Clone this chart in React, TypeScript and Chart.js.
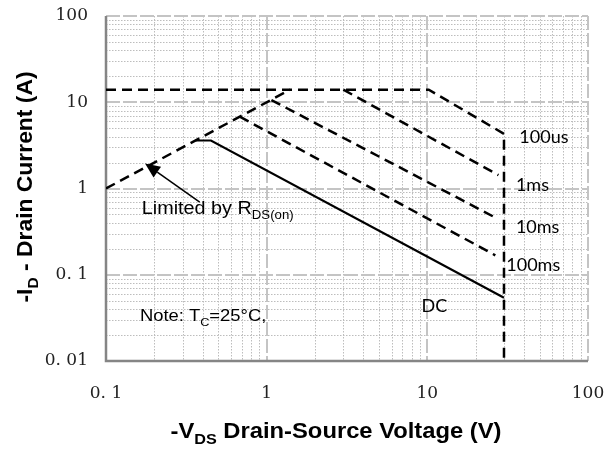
import React, { useEffect, useRef } from 'react';
import { Chart, registerables } from 'chart.js';

Chart.register(...registerables);

// Axis ticks
const xTickValues = [0.1, 1, 10, 100];
const xTickLabels = ['0. 1', '1', '10', '100'];
const yTickValues = [0.01, 0.1, 1, 10, 100];
const yTickLabels = ['0. 01', '0. 1', '1', '10', '100'];

// Safe operating area boundaries (V, A)
const rdsV = [0.1, 1.4];
const rdsI = [1, 14];
const us100V = [0.1, 10.2, 30, 30];
const us100I = [14, 14, 4.3, 0.01];
const ms1V = [3.0, 27.7];
const ms1I = [14, 1.43];
const ms10V = [1.07, 26.5];
const ms10I = [10.6, 0.46];
const ms100V = [0.68, 26.5];
const ms100I = [6.8, 0.168];
const dcV = [0.36, 0.45, 30];
const dcI = [3.6, 3.6, 0.054];

// Curve labels: text, x (V), baseline (A)
const curveLabels = ['100us', '1ms', '10ms', '100ms', 'DC'];
const curveLabelV = [37.4, 35.6, 35.6, 31.0, 9.2];
const curveLabelI = [3.41, 0.943, 0.306, 0.1107, 0.0369];

const arrowTail = { v: 0.383, i: 0.693 };
const arrowTip = { v: 0.175, i: 1.95 };
const limitedPos = { v: 0.167, i: 0.502 };
const notePos = { v: 0.1625, i: 0.0288 };

const pts = (xs: number[], ys: number[]) => xs.map((x, k) => ({ x, y: ys[k] }));

type Part = { t: string; sub?: boolean };

function drawRich(
  ctx: CanvasRenderingContext2D,
  parts: Part[],
  x: number,
  y: number,
  size: number,
  weight: string,
  family: string,
  sx: number,
  align: 'left' | 'center'
) {
  const fontFor = (p: Part) => `${weight} ${p.sub ? Math.round(size * 0.68) : size}px ${family}`;
  let total = 0;
  const widths = parts.map((p) => {
    ctx.font = fontFor(p);
    const w = ctx.measureText(p.t).width;
    total += w;
    return w;
  });
  ctx.save();
  ctx.translate(x, y);
  ctx.scale(sx, 1);
  let cx = align === 'center' ? -total / 2 : 0;
  ctx.textBaseline = 'alphabetic';
  ctx.textAlign = 'left';
  ctx.fillStyle = '#000';
  parts.forEach((p, k) => {
    ctx.font = fontFor(p);
    ctx.fillText(p.t, cx, p.sub ? size * 0.28 : 0);
    cx += widths[k];
  });
  ctx.restore();
}

const gridPlugin = {
  id: 'soaGrid',
  beforeDatasetsDraw(chart: any) {
    const ctx: CanvasRenderingContext2D = chart.ctx;
    const xs = chart.scales.x;
    const ys = chart.scales.y;
    const { left, right, top, bottom } = chart.chartArea;
    ctx.save();
    // minor
    ctx.strokeStyle = '#bdbdbd';
    ctx.lineWidth = 1;
    ctx.setLineDash([1.5, 1.5]);
    const decadesX = [0.1, 1, 10];
    decadesX.forEach((d) => {
      for (let k = 2; k <= 9; k++) {
        const px = Math.round(xs.getPixelForValue(d * k)) + 0.5;
        ctx.beginPath();
        ctx.moveTo(px, top);
        ctx.lineTo(px, bottom);
        ctx.stroke();
      }
    });
    const decadesY = [0.01, 0.1, 1, 10];
    decadesY.forEach((d) => {
      for (let k = 2; k <= 9; k++) {
        const py = Math.round(ys.getPixelForValue(d * k)) + 0.5;
        ctx.beginPath();
        ctx.moveTo(left, py);
        ctx.lineTo(right, py);
        ctx.stroke();
      }
    });
    // major
    ctx.strokeStyle = '#c4c4c4';
    ctx.lineWidth = 2;
    ctx.setLineDash([14, 3]);
    xTickValues.forEach((v) => {
      const px = Math.round(xs.getPixelForValue(v));
      ctx.beginPath();
      ctx.moveTo(px, top);
      ctx.lineTo(px, bottom);
      ctx.stroke();
    });
    yTickValues.forEach((v) => {
      const py = Math.round(ys.getPixelForValue(v));
      ctx.beginPath();
      ctx.moveTo(left, py);
      ctx.lineTo(right, py);
      ctx.stroke();
    });
    // left/bottom frame
    ctx.setLineDash([]);
    ctx.strokeStyle = '#858585';
    ctx.lineWidth = 2.5;
    ctx.beginPath();
    ctx.moveTo(left, top);
    ctx.lineTo(left, bottom);
    ctx.lineTo(right, bottom);
    ctx.stroke();
    ctx.restore();
  },
  afterDatasetsDraw(chart: any) {
    const ctx: CanvasRenderingContext2D = chart.ctx;
    const xs = chart.scales.x;
    const ys = chart.scales.y;
    const X = (v: number) => xs.getPixelForValue(v);
    const Y = (v: number) => ys.getPixelForValue(v);
    ctx.save();
    // arrow
    const tx = X(arrowTail.v), ty = Y(arrowTail.i);
    const hx = X(arrowTip.v), hy = Y(arrowTip.i);
    const ang = Math.atan2(hy - ty, hx - tx);
    const hl = 15, hw = 6.5;
    const bx = hx - hl * Math.cos(ang), by = hy - hl * Math.sin(ang);
    ctx.strokeStyle = '#000';
    ctx.lineWidth = 1.5;
    ctx.setLineDash([]);
    ctx.beginPath();
    ctx.moveTo(tx, ty);
    ctx.lineTo(bx, by);
    ctx.stroke();
    ctx.fillStyle = '#000';
    ctx.beginPath();
    ctx.moveTo(hx, hy);
    ctx.lineTo(bx + hw * Math.sin(ang), by - hw * Math.cos(ang));
    ctx.lineTo(bx - hw * Math.sin(ang), by + hw * Math.cos(ang));
    ctx.closePath();
    ctx.fill();

    drawRich(ctx, [{ t: 'Limited by R' }, { t: 'DS(on)', sub: true }], X(limitedPos.v), Y(limitedPos.i), 18, 'normal', '"Liberation Sans", Arial, sans-serif', 1.1, 'left');
    drawRich(ctx, [{ t: 'Note: T' }, { t: 'C', sub: true }, { t: '=25°C,' }], X(notePos.v), Y(notePos.i), 16, 'normal', '"Liberation Sans", Arial, sans-serif', 1.15, 'left');

    curveLabels.forEach((t, k) => {
      drawRich(ctx, [{ t }], X(curveLabelV[k]), Y(curveLabelI[k]), 18, 'normal', 'Lato, sans-serif', 1, 'left');
    });

    // axis titles
    drawRich(ctx, [{ t: '-V' }, { t: 'DS', sub: true }, { t: ' Drain-Source Voltage (V)' }], 336, 438, 22, 'bold', '"Liberation Sans", Arial, sans-serif', 1.08, 'center');
    ctx.save();
    ctx.translate(32, 187);
    ctx.rotate(-Math.PI / 2);
    drawRich(ctx, [{ t: '-I' }, { t: 'D', sub: true }, { t: ' - Drain Current (A)' }], 0, 0, 22, 'bold', '"Liberation Sans", Arial, sans-serif', 1.04, 'center');
    ctx.restore();
    ctx.restore();
  },
};

const zeroPad = (s: any) => {
  s.paddingLeft = 0;
  s.paddingRight = 0;
  s.paddingTop = 0;
  s.paddingBottom = 0;
};

export default function App() {
  const ref = useRef<HTMLCanvasElement | null>(null);
  useEffect(() => {
    if (!ref.current) return;
    const dashed = { borderColor: '#000', borderWidth: 2.5, borderDash: [10, 6], pointRadius: 0, showLine: true, fill: false, tension: 0 };
    const chart = new Chart(ref.current, {
      type: 'line',
      data: {
        datasets: [
          { label: 'RDS(on)', data: pts(rdsV, rdsI), ...dashed },
          { label: '100us', data: pts(us100V, us100I), ...dashed },
          { label: '1ms', data: pts(ms1V, ms1I), ...dashed },
          { label: '10ms', data: pts(ms10V, ms10I), ...dashed },
          { label: '100ms', data: pts(ms100V, ms100I), ...dashed },
          { label: 'DC', data: pts(dcV, dcI), borderColor: '#000', borderWidth: 2.2, pointRadius: 0, showLine: true, fill: false, tension: 0 },
        ],
      },
      options: {
        animation: false,
        responsive: false,
        events: [],
        layout: { padding: { top: 16, right: 20, left: 0, bottom: 0 } },
        plugins: { legend: { display: false }, tooltip: { enabled: false } },
        scales: {
          x: {
            type: 'logarithmic',
            min: 0.1,
            max: 100,
            grid: { display: false, drawTicks: false },
            border: { display: false },
            afterBuildTicks: (s: any) => {
              s.ticks = xTickValues.map((value) => ({ value }));
            },
            afterFit: (s: any) => {
              s.height = 88;
              zeroPad(s);
            },
            ticks: {
              autoSkip: false,
              maxRotation: 0,
              padding: 22,
              color: '#222',
              font: { family: '"DejaVu Serif", serif', size: 17 },
              callback: (_v: any, i: number) => xTickLabels[i],
            },
          },
          y: {
            type: 'logarithmic',
            min: 0.01,
            max: 100,
            grid: { display: false, drawTicks: false },
            border: { display: false },
            afterBuildTicks: (s: any) => {
              s.ticks = yTickValues.map((value) => ({ value }));
            },
            afterFit: (s: any) => {
              s.width = 106;
              zeroPad(s);
            },
            ticks: {
              autoSkip: false,
              padding: 18,
              color: '#222',
              font: { family: '"DejaVu Serif", serif', size: 17 },
              callback: (_v: any, i: number) => yTickLabels[i],
            },
          },
        },
      },
      plugins: [gridPlugin],
    } as any);
    return () => chart.destroy();
  }, []);
  return (
    <div style={{ position: 'fixed', left: 0, top: 0, width: 608, height: 449, background: '#fff' }}>
      <canvas ref={ref} width={608} height={449} style={{ display: 'block' }} />
    </div>
  );
}
